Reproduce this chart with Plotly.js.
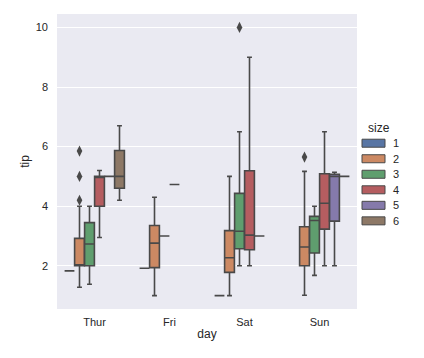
<!DOCTYPE html>
<html>
<head>
<meta charset="utf-8">
<script src="https://cdn.plot.ly/plotly-3.0.1.min.js"></script>
<style>html,body{margin:0;padding:0;background:#fff;}#chart{width:424px;height:358px;}</style>
</head>
<body>
<div id="chart"></div>
<script>
// ---- data ----
const days = ['Thur', 'Fri', 'Sat', 'Sun'];
const sizes = ['1', '2', '3', '4', '5', '6'];
// rows = size 1..6, columns = Thur, Fri, Sat, Sun (null = no data)
const lowerWhisker = [
  [1.83, 1.92, 1.00, null],
  [1.28, 1.00, 1.00, 1.01],
  [1.38, 3.00, 2.00, 1.68],
  [2.95, 4.73, 2.00, 2.00],
  [5.00, null, 3.00, 2.00],
  [4.20, null, null, 5.00]
];
const q1 = [
  [1.83, 1.92, 1.00, null],
  [2.00, 1.94, 1.78, 2.00],
  [2.00, 3.00, 2.57, 2.43],
  [4.00, 4.73, 2.54, 3.23],
  [5.00, null, 3.00, 3.50],
  [4.60, null, null, 5.00]
];
const median = [
  [1.83, 1.92, 1.00, null],
  [2.00, 2.76, 2.27, 2.63],
  [2.73, 3.00, 3.16, 3.52],
  [5.00, 4.73, 3.03, 4.10],
  [5.00, null, 3.00, 5.00],
  [5.00, null, null, 5.00]
];
const q3 = [
  [1.83, 1.92, 1.00, null],
  [2.92, 3.35, 3.18, 3.31],
  [3.45, 3.00, 4.43, 3.66],
  [5.00, 4.73, 5.19, 5.09],
  [5.00, null, 3.00, 5.07],
  [5.87, null, null, 5.00]
];
const upperWhisker = [
  [1.83, 1.92, 1.00, null],
  [4.00, 4.30, 5.00, 5.17],
  [4.00, 3.00, 6.50, 4.00],
  [5.20, 4.73, 9.00, 6.50],
  [5.00, null, 3.00, 5.14],
  [6.70, null, null, 5.00]
];
const outlierDay = ['Thur', 'Thur', 'Thur', 'Sat', 'Sun'];
const outlierSize = ['2', '2', '2', '3', '2'];
const outlierTip = [4.20, 5.00, 5.85, 10.00, 5.65];

// ---- styles ----
const colors = ['#5875a4', '#cc8963', '#5f9e6e', '#b55d60', '#857aab', '#8d7866'];
const lineGray = '#494949';
const textColor = '#262626';
const FONT = 'Liberation Sans, Arial, sans-serif';

const groupWidth = 0.8;
const nHue = sizes.length;
const each = groupWidth / nHue;
const offsets = sizes.map((s, i) => (i - (nHue - 1) / 2) * each);

const traces = [];
sizes.forEach((s, k) => {
  const xs = [], a = [], b = [], c = [], d = [], e = [];
  days.forEach((day, j) => {
    if (median[k][j] === null) return;
    xs.push(j + offsets[k]);
    a.push(lowerWhisker[k][j]); b.push(q1[k][j]); c.push(median[k][j]);
    d.push(q3[k][j]); e.push(upperWhisker[k][j]);
  });
  traces.push({
    type: 'box', name: s, x: xs,
    lowerfence: a, q1: b, median: c, q3: d, upperfence: e,
    width: each * 0.98, whiskerwidth: 0.5,
    fillcolor: colors[k], line: {color: lineGray, width: 1.6},
    boxpoints: false, hoverinfo: 'skip', showlegend: false
  });
});

traces.push({
  type: 'scatter', mode: 'markers',
  x: outlierDay.map((d, i) => days.indexOf(d) + offsets[sizes.indexOf(outlierSize[i])]),
  y: outlierTip,
  marker: {symbol: 'diamond-tall', size: 8, color: lineGray},
  hoverinfo: 'skip', showlegend: false
});

// ---- legend drawn by hand (seaborn-style patches) ----
const plotL = 57, plotW = 300, plotTop = 14.3, plotBot = 308.8;
const px2x = p => (p - plotL) / plotW;
const py2y = p => (plotBot - p) / (plotBot - plotTop);
const shapes = [], annotations = [];
annotations.push({xref: 'paper', yref: 'paper', x: px2x(379), y: py2y(128.5), text: 'size',
  showarrow: false, xanchor: 'center', yanchor: 'middle', font: {family: FONT, size: 12, color: textColor}});
sizes.forEach((s, i) => {
  const cy = 143.3 + 15.5 * i;
  shapes.push({type: 'rect', xref: 'paper', yref: 'paper',
    x0: px2x(362), x1: px2x(385), y0: py2y(cy + 4), y1: py2y(cy - 4),
    fillcolor: colors[i], line: {color: lineGray, width: 1}});
  annotations.push({xref: 'paper', yref: 'paper', x: px2x(396), y: py2y(cy), text: s,
    showarrow: false, xanchor: 'center', yanchor: 'middle', font: {family: FONT, size: 11, color: textColor}});
});

const layout = {
  width: 424, height: 358,
  margin: {l: 57, r: 67, t: 14.3, b: 358 - 308.8, pad: 0},
  paper_bgcolor: '#ffffff', plot_bgcolor: '#eaeaf2',
  font: {family: FONT, size: 11, color: textColor},
  showlegend: false, boxmode: 'overlay',
  xaxis: {
    range: [-0.5, 3.5], tickvals: days.map((d, i) => i), ticktext: days,
    showgrid: false, zeroline: false, showline: false, ticks: '',
    ticklabelstandoff: 5,
    title: {text: 'day', font: {family: FONT, size: 12, color: textColor}, standoff: 2}
  },
  yaxis: {
    range: [0.55, 10.45], tickvals: [2, 4, 6, 8, 10],
    showgrid: true, gridcolor: '#ffffff', gridwidth: 1,
    zeroline: false, showline: false, ticks: '',
    ticklabelstandoff: 8,
    title: {text: 'tip', font: {family: FONT, size: 12, color: textColor}, standoff: 3}
  },
  shapes: shapes, annotations: annotations
};

Plotly.newPlot('chart', traces, layout, {displayModeBar: false, staticPlot: true});
</script>
</body>
</html>
